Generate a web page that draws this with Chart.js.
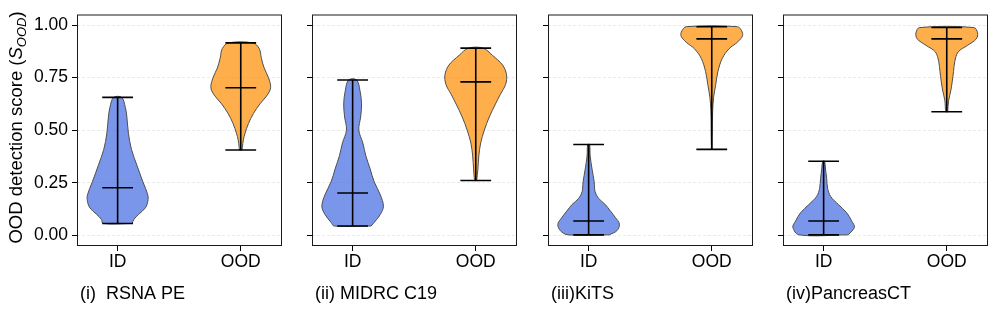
<!DOCTYPE html>
<html>
<head>
<meta charset="utf-8">
<script src="https://cdn.jsdelivr.net/npm/chart.js@4.4.0/dist/chart.umd.min.js"></script>
<style>
  body { margin: 0; background: #fff; }
  #wrap { position: relative; width: 997px; height: 314px; }
  #wrap canvas { position: absolute; top: 0; }
</style>
</head>
<body>
<div id="wrap"></div>
<script>
const groups = ['ID', 'OOD'];
const yTicks = [0, 0.25, 0.5, 0.75, 1.0];
const captions = ['(i)  RSNA PE', '(ii) MIDRC C19', '(iii)KiTS', '(iv)PancreasCT'];

// per dataset: [ID, OOD]
const mins = [[0.057, 0.406], [0.045, 0.261], [0.003, 0.409], [0.003, 0.588]];
const medians = [[0.227, 0.702], [0.202, 0.730], [0.069, 0.934], [0.069, 0.934]];
const maxes = [[0.656, 0.915], [0.739, 0.890], [0.432, 0.992], [0.353, 0.988]];

// violin outlines: score levels and relative density (1 = widest)
const rsnaIdY = [0.057, 0.077, 0.100, 0.131, 0.162, 0.193, 0.255, 0.332, 0.409, 0.486, 0.563, 0.609, 0.656];
const rsnaIdW = [0.47, 0.53, 0.68, 0.90, 0.98, 0.98, 0.82, 0.63, 0.45, 0.35, 0.30, 0.25, 0.13];
const rsnaOodY = [0.406, 0.417, 0.455, 0.486, 0.532, 0.579, 0.625, 0.663, 0.702, 0.750, 0.796, 0.842, 0.888, 0.915];
const rsnaOodW = [0.04, 0.05, 0.085, 0.14, 0.25, 0.41, 0.62, 0.84, 0.97, 0.90, 0.76, 0.67, 0.60, 0.40];

const midrcIdY = [0.045, 0.062, 0.100, 0.139, 0.193, 0.255, 0.316, 0.378, 0.440, 0.501, 0.563, 0.625, 0.687, 0.739];
const midrcIdW = [0.60, 0.70, 0.90, 1.00, 0.90, 0.70, 0.57, 0.43, 0.33, 0.20, 0.26, 0.29, 0.24, 0.13];
const midrcOodY = [0.261, 0.316, 0.378, 0.440, 0.501, 0.563, 0.625, 0.671, 0.718, 0.764, 0.810, 0.856, 0.890];
const midrcOodW = [0.03, 0.07, 0.10, 0.16, 0.28, 0.44, 0.64, 0.80, 0.97, 1.00, 0.87, 0.54, 0.24];

const kitsIdY = [0.003, 0.023, 0.054, 0.085, 0.116, 0.147, 0.177, 0.208, 0.255, 0.316, 0.378, 0.432];
const kitsIdW = [0.67, 0.92, 1.00, 0.87, 0.71, 0.54, 0.32, 0.21, 0.18, 0.11, 0.05, 0.03];
const kitsOodY = [0.409, 0.532, 0.594, 0.656, 0.718, 0.779, 0.841, 0.887, 0.918, 0.949, 0.972, 0.992];
const kitsOodW = [0.01, 0.02, 0.03, 0.06, 0.13, 0.20, 0.34, 0.56, 0.83, 1.00, 0.97, 0.83];

const pancIdY = [0.003, 0.039, 0.069, 0.108, 0.147, 0.185, 0.224, 0.270, 0.316, 0.353];
const pancIdW = [0.80, 1.00, 0.91, 0.75, 0.48, 0.23, 0.13, 0.10, 0.06, 0.03];
const pancOodY = [0.588, 0.640, 0.687, 0.733, 0.779, 0.826, 0.872, 0.903, 0.934, 0.963, 0.988];
const pancOodW = [0.03, 0.06, 0.13, 0.18, 0.22, 0.26, 0.37, 0.67, 0.96, 1.00, 0.88];

const densY = [[rsnaIdY, rsnaOodY], [midrcIdY, midrcOodY], [kitsIdY, kitsOodY], [pancIdY, pancOodY]];
const densW = [[rsnaIdW, rsnaOodW], [midrcIdW, midrcOodW], [kitsIdW, kitsOodW], [pancIdW, pancOodW]];

const fills = ['rgba(65,105,225,0.7)', 'rgba(255,140,0,0.7)'];
const halfWidth = 0.25;   // widest violin half width (x units)
const capHalf = 0.125;
const plotLefts = [77, 312, 548, 783];
const plotW = 205;
const fontFamily = '"Liberation Sans", Arial, sans-serif';

Chart.defaults.color = '#000';
Chart.defaults.font.family = fontFamily;

function outline(pos, ys, ws) {
    const right = ys.map((y, i) => ({x: pos + ws[i] * halfWidth, y: y}));
    const left = ys.map((y, i) => ({x: pos - ws[i] * halfWidth, y: y})).reverse();
    return right.concat(left, [right[0]]);
}

function seg(x1, y1, x2, y2) {
    return {
        data: [{x: x1, y: y1}, {x: x2, y: y2}],
        showLine: true, borderColor: '#000', borderWidth: 1.6,
        pointRadius: 0, tension: 0, fill: false, order: 0
    };
}

const framePlugin = {
    id: 'frame',
    afterDraw(chart) {
        const a = chart.chartArea;
        const ctx = chart.ctx;
        ctx.save();
        ctx.strokeStyle = '#1a1a1a';
        ctx.lineWidth = 1;
        ctx.strokeRect(a.left + 0.5, a.top + 0.5, a.right - a.left - 1, a.bottom - a.top - 1);
        ctx.font = '18px ' + fontFamily;
        ctx.fillStyle = '#000';
        ctx.textBaseline = 'alphabetic';
        ctx.fillText(chart.options.caption, a.left + 3, 298.5);
        ctx.restore();
    }
};

const yLabelPlugin = {
    id: 'ylabel',
    afterDraw(chart) {
        if (!chart.options.yLabel) return;
        const ctx = chart.ctx;
        const parts = [
            ['OOD detection score (', '18.5px ' + fontFamily, 0],
            ['S', 'italic 18.5px ' + fontFamily, 0],
            ['OOD', 'italic 13px ' + fontFamily, 4],
            [')', '18.5px ' + fontFamily, 0]
        ];
        ctx.save();
        ctx.translate(21.5, 127.5);
        ctx.rotate(-Math.PI / 2);
        ctx.fillStyle = '#000';
        ctx.textBaseline = 'alphabetic';
        let total = 0;
        parts.forEach(p => { ctx.font = p[1]; total += ctx.measureText(p[0]).width; });
        let x = -total / 2;
        parts.forEach(p => {
            ctx.font = p[1];
            ctx.fillText(p[0], x, p[2]);
            x += ctx.measureText(p[0]).width;
        });
        ctx.restore();
    }
};

const wrap = document.getElementById('wrap');

for (let p = 0; p < 4; p++) {
    const axisW = p === 0 ? 77 : 30;
    const canvas = document.createElement('canvas');
    canvas.width = axisW + plotW + 6;
    canvas.height = 314;
    canvas.style.left = (plotLefts[p] - axisW) + 'px';
    wrap.appendChild(canvas);

    const datasets = [];
    for (let g = 0; g < 2; g++) {
        const pos = g + 1;
        datasets.push(seg(pos, mins[p][g], pos, maxes[p][g]));
        datasets.push(seg(pos - capHalf, mins[p][g], pos + capHalf, mins[p][g]));
        datasets.push(seg(pos - capHalf, maxes[p][g], pos + capHalf, maxes[p][g]));
        datasets.push(seg(pos - capHalf, medians[p][g], pos + capHalf, medians[p][g]));
        datasets.push({
            data: outline(pos, densY[p][g], densW[p][g]),
            showLine: true, fill: 'shape',
            backgroundColor: fills[g], borderColor: '#4d4d4d', borderWidth: 1,
            pointRadius: 0, tension: 0.35, order: 1
        });
    }

    new Chart(canvas, {
        type: 'scatter',
        data: {datasets: datasets},
        options: {
            responsive: false,
            animation: false,
            caption: captions[p],
            yLabel: p === 0,
            layout: {padding: {top: 8, right: 6, bottom: 0, left: 0}},
            plugins: {legend: {display: false}, tooltip: {enabled: false}},
            scales: {
                x: {
                    type: 'linear', min: 0.67, max: 2.335,
                    afterFit: s => { s.height = 68; },
                    afterBuildTicks: s => { s.ticks = [{value: 1}, {value: 2}]; },
                    ticks: {
                        callback: v => groups[v - 1],
                        font: {size: 17.5}, color: '#000', padding: 1,
                        maxRotation: 0, autoSkip: false
                    },
                    grid: {drawOnChartArea: false, tickLength: 5, tickColor: '#000', tickWidth: 1},
                    border: {display: false}
                },
                y: {
                    min: -0.05, max: 1.05,
                    afterFit: s => { s.width = axisW; },
                    afterBuildTicks: s => { s.ticks = yTicks.map(v => ({value: v})); },
                    ticks: {
                        callback: v => p === 0 ? v.toFixed(2) : '',
                        font: {size: 17.5}, color: '#000', padding: 4
                    },
                    grid: {color: '#e4e4e4', lineWidth: 0.8, tickLength: 5, tickColor: '#000', tickWidth: 1},
                    border: {display: false, dash: [3, 2]}
                }
            }
        },
        plugins: [framePlugin, yLabelPlugin]
    });
}
</script>
</body>
</html>
